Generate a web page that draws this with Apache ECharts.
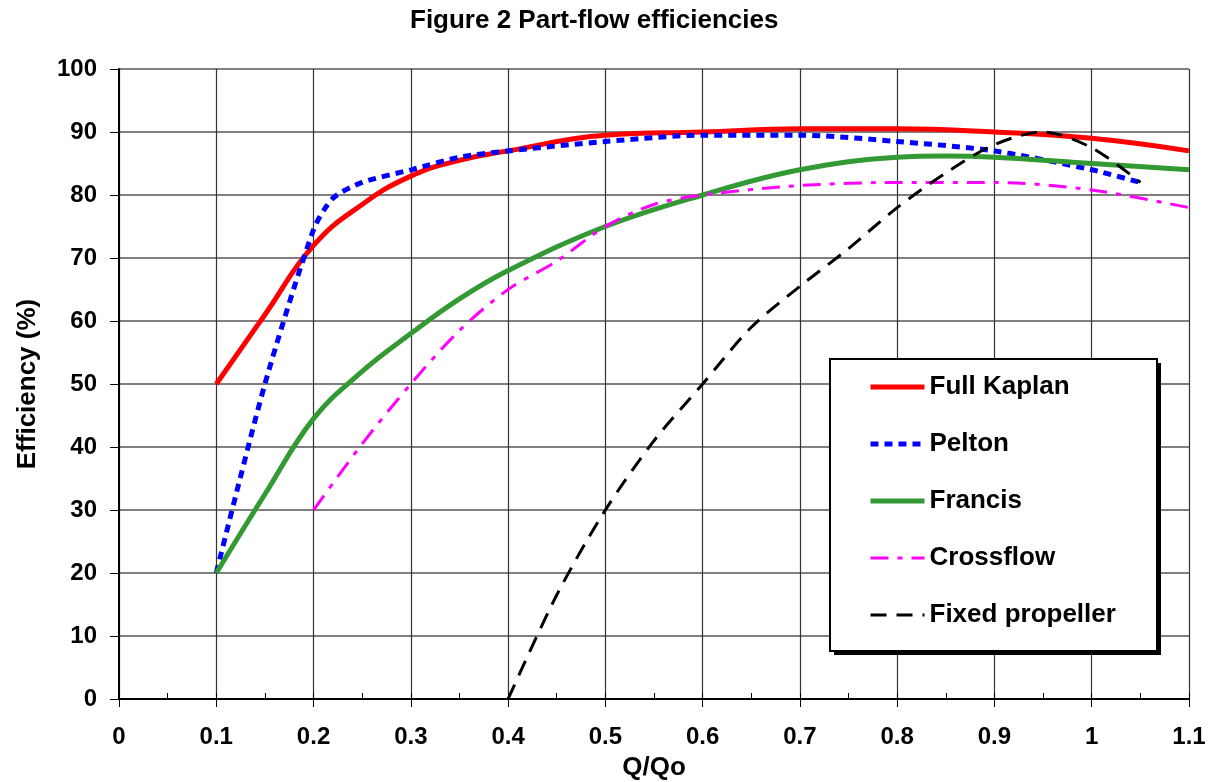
<!DOCTYPE html>
<html>
<head>
<meta charset="utf-8">
<script src="https://cdn.jsdelivr.net/npm/echarts@6/dist/echarts.min.js"></script>
<style>
  html, body { margin: 0; padding: 0; background: #fff; }
  #chart { width: 1219px; height: 782px; }
</style>
</head>
<body>
<div id="chart"></div>
<script>
// values
var kaplanQ = [0.1, 0.15, 0.2, 0.25, 0.3, 0.35, 0.4, 0.5, 0.6, 0.7, 0.8, 0.9, 1.0, 1.1];
var kaplanE = [50, 61, 72, 78.5, 83, 85.5, 87, 89.5, 90, 90.5, 90.5, 90, 89, 87];

var peltonQ = [0.1, 0.15, 0.2, 0.22, 0.25, 0.3, 0.35, 0.4, 0.5, 0.6, 0.7, 0.8, 0.9, 1.0, 1.05];
var peltonE = [20, 50, 74.5, 79.5, 82, 84, 86, 87, 88.5, 89.5, 89.5, 88.5, 87, 84, 82];

var francisQ = [0.1, 0.15, 0.2, 0.25, 0.3, 0.35, 0.4, 0.5, 0.6, 0.7, 0.8, 0.85, 0.9, 1.0, 1.1];
var francisE = [20, 32.5, 44.5, 52, 58, 63.5, 68, 75, 80, 84, 86, 86.2, 86, 85, 84];

var crossQ = [0.2, 0.25, 0.3, 0.35, 0.4, 0.45, 0.5, 0.55, 0.6, 0.7, 0.8, 0.9, 1.0, 1.1];
var crossE = [30, 40.5, 50, 58.5, 65, 69.5, 75, 78.5, 80, 81.5, 82, 82, 80.8, 78];

var fixedQ = [0.4, 0.45, 0.5, 0.55, 0.6, 0.65, 0.7, 0.75, 0.8, 0.85, 0.9, 0.95, 1.0, 1.05];
var fixedE = [0, 16.5, 30, 41, 50, 59, 65.5, 71.5, 78, 83.5, 88, 90, 87.5, 82];

var legendNames = ['Full Kaplan', 'Pelton', 'Francis', 'Crossflow', 'Fixed propeller'];

function pairs(xs, ys) {
  return xs.map(function (x, i) { return [x, ys[i]]; });
}

var chart = echarts.init(document.getElementById('chart'));

var boldFont = 'Liberation Sans, Arial, sans-serif';

var option = {
  backgroundColor: '#fff',
  animation: false,
  title: {
    text: 'Figure 2 Part-flow efficiencies',
    left: 410,
    top: 8,
    padding: 0,
    textStyle: { fontFamily: boldFont, fontWeight: 'bold', fontSize: 26, color: '#000' }
  },
  grid: { left: 119, right: 30, top: 69, bottom: 83, outerBoundsMode: 'none' },
  legend: {
    orient: 'vertical',
    left: 868,
    top: 374,
    padding: 0,
    itemWidth: 54,
    itemHeight: 14,
    itemGap: 31,
    itemStyle: { opacity: 0 },
    lineStyle: { width: 'inherit' },
    textStyle: { fontFamily: boldFont, fontWeight: 'bold', fontSize: 26, color: '#000' },
    data: legendNames
  },
  graphic: [
    { type: 'rect', z: 3, shape: { x: 834, y: 363, width: 327, height: 292 }, style: { fill: '#000' } },
    { type: 'rect', z: 3, shape: { x: 830, y: 359, width: 327, height: 292 }, style: { fill: '#fff', stroke: '#000', lineWidth: 2 } }
  ],
  xAxis: [
    {
      type: 'value',
      min: 0,
      max: 1.1,
      interval: 0.1,
      name: 'Q/Qo',
      nameLocation: 'middle',
      nameGap: 56,
      nameTextStyle: { fontFamily: boldFont, fontWeight: 'bold', fontSize: 26, color: '#000' },
      axisLine: { show: true, lineStyle: { color: '#000', width: 2 } },
      axisTick: { show: true, length: 8, lineStyle: { color: '#000', width: 1 } },
      axisLabel: {
        margin: 26,
        fontFamily: boldFont, fontWeight: 'bold', fontSize: 24, color: '#000',
        formatter: function (v) { return String(Math.round(v * 10) / 10); }
      },
      splitLine: { show: true, lineStyle: { color: '#333', width: 1.2 } }
    },
    {
      type: 'value',
      position: 'bottom',
      min: 0,
      max: 1.1,
      interval: 0.05,
      axisLine: { show: false },
      axisTick: { show: true, inside: true, length: 6, lineStyle: { color: '#000', width: 1 } },
      axisLabel: { show: false },
      splitLine: { show: false }
    }
  ],
  yAxis: {
    type: 'value',
    min: 0,
    max: 100,
    interval: 10,
    name: 'Efficiency (%)',
    nameLocation: 'middle',
    nameGap: 78,
    nameTextStyle: { fontFamily: boldFont, fontWeight: 'bold', fontSize: 26, color: '#000' },
    axisLine: { show: true, lineStyle: { color: '#000', width: 2 } },
    axisTick: { show: true, length: 9, lineStyle: { color: '#000', width: 1 } },
    axisLabel: { margin: 22, fontFamily: boldFont, fontWeight: 'bold', fontSize: 24, color: '#000' },
    splitLine: { show: true, lineStyle: { color: '#808080', width: 2 } }
  },
  series: [
    {
      name: 'Full Kaplan', type: 'line', smooth: 0.45, symbol: 'none',
      data: pairs(kaplanQ, kaplanE),
      itemStyle: { color: '#ff0000' },
      lineStyle: { color: '#ff0000', width: 5 }
    },
    {
      name: 'Pelton', type: 'line', smooth: 0.25, symbol: 'none',
      data: pairs(peltonQ, peltonE),
      itemStyle: { color: '#0000ff' },
      lineStyle: { color: '#0000ff', width: 5, type: [8, 6] }
    },
    {
      name: 'Francis', type: 'line', smooth: 0.4, symbol: 'none',
      data: pairs(francisQ, francisE),
      itemStyle: { color: '#339933' },
      lineStyle: { color: '#339933', width: 5 }
    },
    {
      name: 'Crossflow', type: 'line', smooth: 0.3, symbol: 'none',
      data: pairs(crossQ, crossE),
      itemStyle: { color: '#ff00ff' },
      lineStyle: { color: '#ff00ff', width: 3, type: [18, 9, 5, 9] }
    },
    {
      name: 'Fixed propeller', type: 'line', smooth: 0.3, symbol: 'none',
      data: pairs(fixedQ, fixedE),
      itemStyle: { color: '#000' },
      lineStyle: { color: '#000', width: 3, type: [16, 10] }
    }
  ]
};

chart.setOption(option);
</script>
</body>
</html>
